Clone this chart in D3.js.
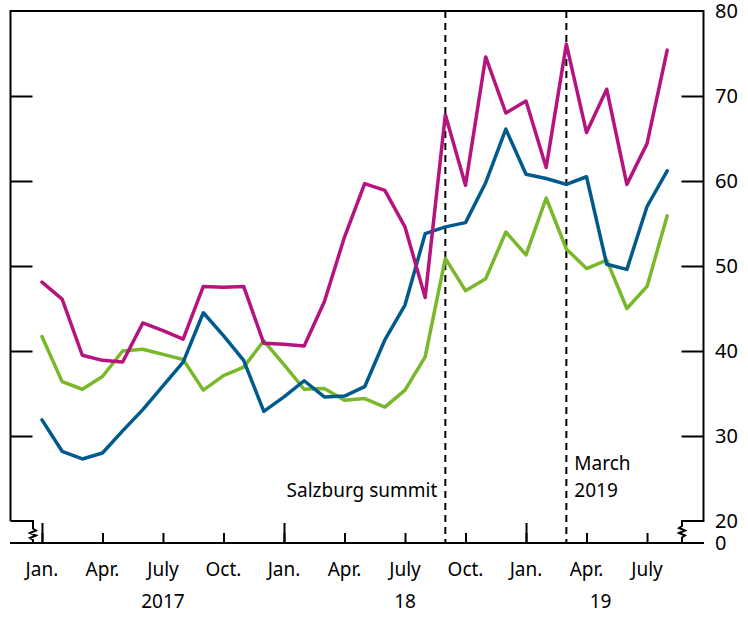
<!DOCTYPE html>
<html>
<head>
<meta charset="utf-8">
<script src="https://cdn.jsdelivr.net/npm/d3@7"></script>
<style>
  body { margin: 0; background: #fff; }
  text { font-family: "Noto Sans", sans-serif; fill: #000; }
</style>
</head>
<body>
<div id="chart"></div>
<script>
// monthly, Jan 2017 .. Aug 2019
const months = ["Jan 17","Feb 17","Mar 17","Apr 17","May 17","Jun 17","Jul 17","Aug 17","Sep 17","Oct 17","Nov 17","Dec 17",
                "Jan 18","Feb 18","Mar 18","Apr 18","May 18","Jun 18","Jul 18","Aug 18","Sep 18","Oct 18","Nov 18","Dec 18",
                "Jan 19","Feb 19","Mar 19","Apr 19","May 19","Jun 19","Jul 19","Aug 19"];
const magenta = [48.1, 46.1, 39.5, 38.9, 38.7, 43.3, 42.4, 41.4, 47.6, 47.5, 47.6, 40.9, 40.8, 40.6, 45.8, 53.4,
                 59.7, 58.9, 54.6, 46.3, 67.8, 59.5, 74.6, 68.0, 69.4, 61.6, 76.1, 65.7, 70.8, 59.6, 64.4, 75.4];
const blue    = [31.9, 28.2, 27.3, 28.0, 30.6, 33.1, 35.9, 38.7, 44.5, 41.8, 38.9, 32.9, 34.6, 36.5, 34.6, 34.7,
                 35.8, 41.3, 45.4, 53.8, 54.6, 55.1, 59.8, 66.1, 60.8, 60.3, 59.6, 60.5, 50.2, 49.6, 57.0, 61.2];
const green   = [41.7, 36.4, 35.5, 37.0, 40.0, 40.2, 39.6, 39.0, 35.4, 37.1, 38.1, 41.2, 38.4, 35.5, 35.6, 34.2,
                 34.4, 33.4, 35.4, 39.3, 50.9, 47.1, 48.5, 54.0, 51.3, 58.0, 52.0, 49.7, 50.7, 45.0, 47.6, 55.9];

const quarterTicks = [0, 3, 6, 9, 12, 15, 18, 21, 24, 27, 30];
const quarterLabels = ["Jan.", "Apr.", "July", "Oct.", "Jan.", "Apr.", "July", "Oct.", "Jan.", "Apr.", "July"];
const yearTicks = [0, 12, 24];
const yearLabels = ["2017", "18", "19"];
const yearLabelAt = [6, 18, 27.7];
const yTicks = [30, 40, 50, 60, 70];
const yLabels = [20, 30, 40, 50, 60, 70, 80];
const eventMonths = [20, 26];

const W = 748, H = 619;
const pLeft = 10.5, pRight = 703.5, pTop = 11, pBottom = 521, axisY = 543;

const svg = d3.select("#chart").append("svg")
    .attr("width", W)
    .attr("height", H);

const x = d3.scaleLinear().domain([-1.56, 32.8]).range([pLeft, pRight]);
const y = d3.scaleLinear().domain([20, 80]).range([pBottom, pTop]);

// frame with broken axis
const frame = `M${pLeft},${pBottom} V${pTop} H${pRight} V${pBottom} H682 V526 l-3,2 l6,2.5 l-6,2.5 l6,2.5 l-3,2 V${axisY}` +
              ` M33,${axisY} V540 l-3,-2 l6,-2.5 l-6,-2.5 l6,-2.5 l-3,-2 V${pBottom} H${pLeft}`;
svg.append("path")
    .attr("d", frame)
    .attr("fill", "none")
    .attr("stroke", "#000")
    .attr("stroke-width", 2);

svg.append("line")
    .attr("x1", pLeft - 0.5).attr("x2", pRight + 0.5)
    .attr("y1", axisY).attr("y2", axisY)
    .attr("stroke", "#000").attr("stroke-width", 2);

// inward y ticks
const leftAxis = svg.append("g")
    .attr("transform", `translate(${pLeft},0)`)
    .call(d3.axisRight(y).tickValues(yTicks).tickSize(22).tickFormat(""));
const rightAxis = svg.append("g")
    .attr("transform", `translate(${pRight},0)`)
    .call(d3.axisLeft(y).tickValues(yTicks).tickSize(22).tickFormat(""));
[leftAxis, rightAxis].forEach(g => {
    g.select(".domain").remove();
    g.selectAll(".tick line").attr("stroke", "#000").attr("stroke-width", 2);
});

svg.selectAll(".ylab")
    .data(yLabels)
    .enter().append("text")
    .attr("x", 715)
    .attr("y", d => y(d))
    .attr("dy", "0.35em")
    .attr("font-size", 20)
    .text(d => d);
svg.append("text")
    .attr("x", 715)
    .attr("y", axisY)
    .attr("dy", "0.35em")
    .attr("font-size", 20)
    .text("0");

// x ticks
const qAxis = svg.append("g")
    .attr("transform", `translate(0,${axisY})`)
    .call(d3.axisTop(x).tickValues(quarterTicks).tickSize(10).tickFormat(""));
const jAxis = svg.append("g")
    .attr("transform", `translate(0,${axisY})`)
    .call(d3.axisTop(x).tickValues(yearTicks).tickSize(20).tickFormat(""));
[qAxis, jAxis].forEach(g => {
    g.select(".domain").remove();
    g.selectAll(".tick line").attr("stroke", "#000").attr("stroke-width", 2);
});

svg.selectAll(".qlab")
    .data(quarterTicks)
    .enter().append("text")
    .attr("x", d => x(d))
    .attr("y", 576)
    .attr("text-anchor", "middle")
    .attr("font-size", 19)
    .text((d, i) => quarterLabels[i]);

svg.selectAll(".ylabel")
    .data(yearLabels)
    .enter().append("text")
    .attr("x", (d, i) => x(yearLabelAt[i]))
    .attr("y", 608)
    .attr("text-anchor", "middle")
    .attr("font-size", 19)
    .text(d => d);

// event lines
svg.selectAll(".event")
    .data(eventMonths)
    .enter().append("line")
    .attr("x1", d => x(d)).attr("x2", d => x(d))
    .attr("y1", pTop).attr("y2", axisY)
    .attr("stroke", "#000")
    .attr("stroke-width", 2)
    .attr("stroke-dasharray", "7,5");

svg.append("text")
    .attr("x", x(eventMonths[0]) - 8)
    .attr("y", 497)
    .attr("text-anchor", "end")
    .attr("font-size", 19)
    .text("Salzburg summit");
svg.append("text")
    .attr("x", x(eventMonths[1]) + 8)
    .attr("y", 470)
    .attr("font-size", 19)
    .text("March");
svg.append("text")
    .attr("x", x(eventMonths[1]) + 8)
    .attr("y", 497)
    .attr("font-size", 19)
    .text("2019");

// series
const line = d3.line()
    .x((d, i) => x(i))
    .y(d => y(d));

const series = [
    { values: green, color: "#78b82a" },
    { values: blue, color: "#005a8c" },
    { values: magenta, color: "#b5137e" }
];
series.forEach(s => {
    svg.append("path")
        .datum(s.values)
        .attr("fill", "none")
        .attr("stroke", s.color)
        .attr("stroke-width", 3.5)
        .attr("stroke-linejoin", "round")
        .attr("stroke-linecap", "round")
        .attr("d", line);
});
</script>
</body>
</html>
